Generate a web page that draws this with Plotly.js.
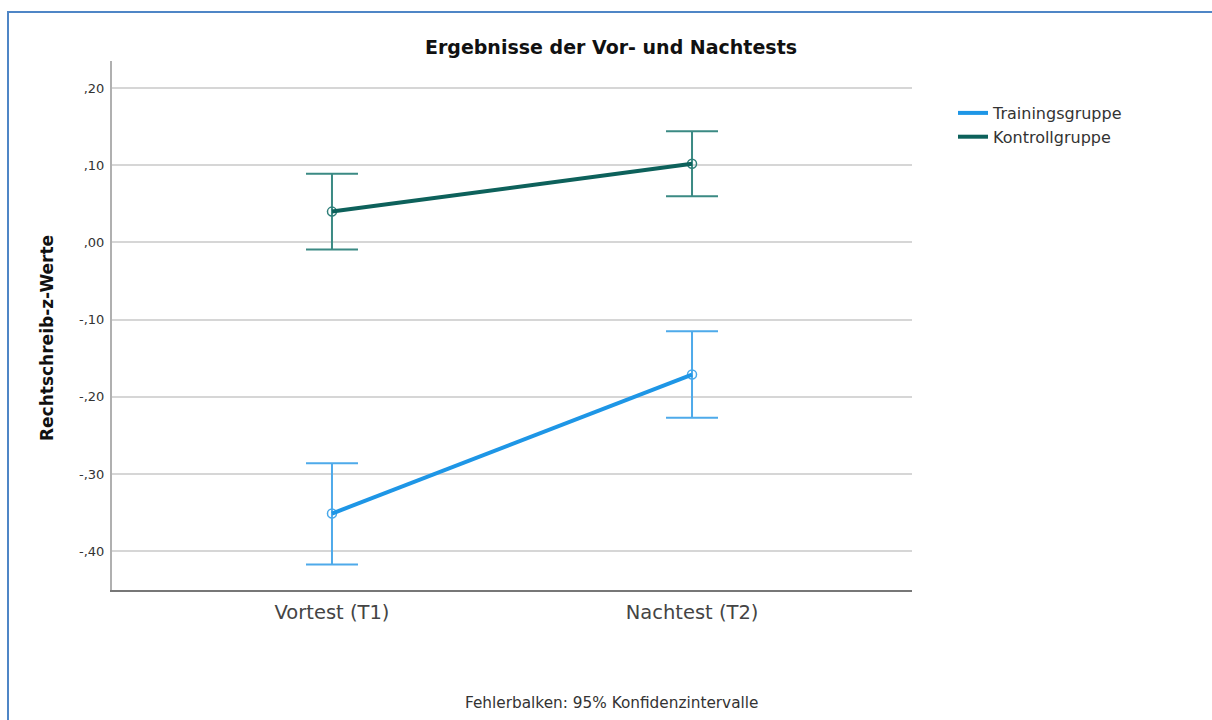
<!DOCTYPE html>
<html>
<head>
<meta charset="utf-8">
<script src="https://cdn.plot.ly/plotly-3.0.1.min.js"></script>
<style>
  html, body { margin: 0; padding: 0; background: #fff; }
  #frame { position: absolute; left: 0; top: 0; width: 1212px; height: 720px; }
  #edge { position: absolute; left: 7px; top: 11px; width: 1205px; height: 709px;
          border-left: 2px solid #4f86c6; border-top: 2px solid #4f86c6; pointer-events: none; }
  #chart { position: absolute; left: 0; top: 0; width: 1212px; height: 720px; }
</style>
</head>
<body>
<div id="frame">
  <div id="chart"></div>
  <div id="edge"></div>
</div>
<script>
// Messzeitpunkte
const zeitpunkte = ["Vortest (T1)", "Nachtest (T2)"];

// Mittelwerte und 95%-Konfidenzgrenzen der Rechtschreib-z-Werte
const trainingMittel = [-0.351, -0.171];
const trainingUnten  = [-0.417, -0.227];
const trainingOben   = [-0.286, -0.115];

const kontrollMittel = [0.040, 0.102];
const kontrollUnten  = [-0.009, 0.060];
const kontrollOben   = [0.089, 0.144];

// Achsenbeschriftungen
const yTickWerte = [-0.4, -0.3, -0.2, -0.1, 0.0, 0.1, 0.2];
const yTickTexte = ["-,40", "-,30", "-,20", "-,10", ",00", ",10", ",20"];

const W = 1212, H = 720;
const plotL = 112, plotR = 912, plotT = 61, plotB = 590;
const pw = plotR - plotL, ph = plotB - plotT;
const px = x => (x - plotL) / pw;
const py = y => (plotB - y) / ph;

function fehler(mittel, unten, oben) {
  return {
    type: "data",
    symmetric: false,
    array: oben.map((v, i) => v - mittel[i]),
    arrayminus: mittel.map((v, i) => v - unten[i])
  };
}

const font = "DejaVu Sans, Verdana, sans-serif";

// Gruppen: Linie (mit Legendeneintrag) und Mittelwertpunkte mit Fehlerbalken
const gruppen = [
  { name: "Trainingsgruppe", mittel: trainingMittel, unten: trainingUnten, oben: trainingOben,
    linie: "#1e96e6", balken: "#4eaaea", punkt: "#48a8ea" },
  { name: "Kontrollgruppe", mittel: kontrollMittel, unten: kontrollUnten, oben: kontrollOben,
    linie: "#0d615b", balken: "#3b8a84", punkt: "#2f7f79" }
];

const traces = [];
gruppen.forEach(g => {
  traces.push({
    name: g.name,
    x: zeitpunkte,
    y: g.mittel,
    type: "scatter",
    mode: "markers",
    showlegend: false,
    marker: { symbol: "circle-open", size: 9, color: g.punkt, line: { width: 1.5 } },
    error_y: Object.assign(fehler(g.mittel, g.unten, g.oben),
      { color: g.balken, thickness: 2, width: 26 })
  });
});
gruppen.forEach(g => {
  traces.push({
    name: g.name,
    x: zeitpunkte,
    y: g.mittel,
    type: "scatter",
    mode: "lines",
    line: { color: g.linie, width: 4 }
  });
});

const layout = {
  width: W,
  height: H,
  paper_bgcolor: "#ffffff",
  plot_bgcolor: "#ffffff",
  margin: { l: plotL, r: W - plotR, t: plotT, b: H - plotB, pad: 0 },
  font: { family: font, color: "#333" },
  title: {
    text: "<b>Ergebnisse der Vor- und Nachtests</b>",
    font: { family: font, size: 19, color: "#111" },
    xref: "container", yref: "container",
    x: 611 / W, y: 1 - 47 / H, xanchor: "center", yanchor: "middle"
  },
  xaxis: {
    type: "category",
    range: [-0.611, 1.611],
    showgrid: false,
    zeroline: false,
    showline: true,
    linecolor: "#777",
    linewidth: 2,
    ticks: "",
    tickfont: { family: font, size: 19.5, color: "#444" },
    ticklabelstandoff: 4,
    fixedrange: true
  },
  yaxis: {
    range: [-0.45, 0.235],
    tickvals: yTickWerte,
    ticktext: yTickTexte,
    showgrid: true,
    gridcolor: "#d6d6d6",
    gridwidth: 2,
    zeroline: false,
    showline: true,
    linecolor: "#b0b0b0",
    linewidth: 2,
    ticks: "",
    tickfont: { family: font, size: 13, color: "#333" },
    ticklabelstandoff: 3,
    fixedrange: true
  },
  showlegend: true,
  legend: {
    x: px(953), y: py(96), xanchor: "left", yanchor: "top",
    font: { family: font, size: 16, color: "#333" },
    bgcolor: "rgba(0,0,0,0)",
    tracegroupgap: 0
  },
  annotations: [
    {
      text: "<b>Rechtschreib-z-Werte</b>",
      xref: "paper", yref: "paper",
      x: px(47), y: py(338),
      xanchor: "center", yanchor: "middle",
      textangle: -90, showarrow: false,
      font: { family: font, size: 17, color: "#111" }
    },
    {
      text: "Fehlerbalken: 95% Konfidenzintervalle",
      xref: "paper", yref: "paper",
      x: px(611), y: py(703),
      xanchor: "center", yanchor: "middle",
      showarrow: false,
      font: { family: font, size: 15.3, color: "#333" }
    }
  ]
};

Plotly.newPlot("chart", traces, layout, { displayModeBar: false, staticPlot: true });
</script>
</body>
</html>
